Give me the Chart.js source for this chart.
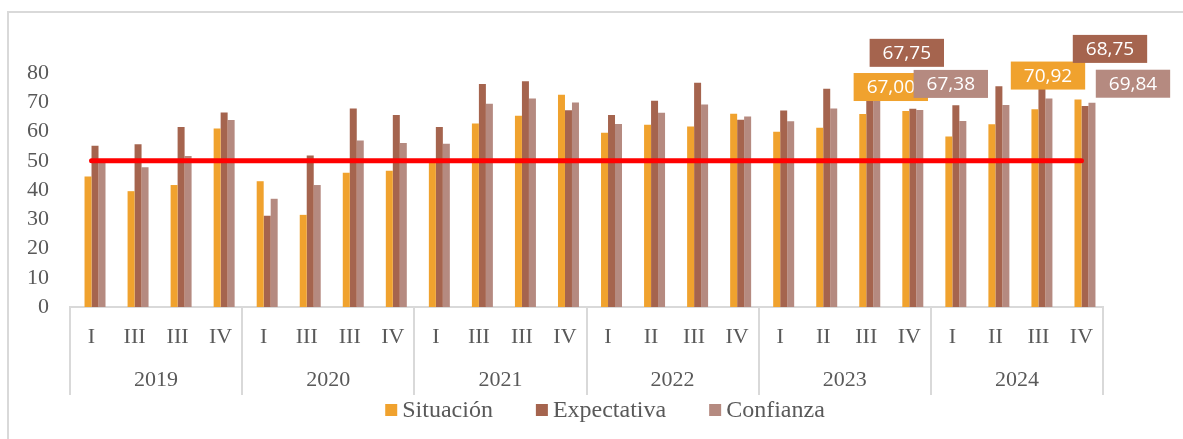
<!DOCTYPE html>
<html>
<head>
<meta charset="utf-8">
<script src="https://cdn.jsdelivr.net/npm/chart.js@4.4.1/dist/chart.umd.min.js"></script>
<style>
    body { margin: 0; background: #fff; }
    #wrap { width: 1183px; height: 439px; position: relative; }
</style>
</head>
<body>
<div id="wrap"><canvas id="chart"></canvas></div>
<script>
// quarter labels as printed in the original (2019-2021 repeat "III")
const quarters = ['I', 'III', 'III', 'IV', 'I', 'III', 'III', 'IV', 'I', 'III', 'III', 'IV',
                  'I', 'II', 'III', 'IV', 'I', 'II', 'III', 'IV', 'I', 'II', 'III', 'IV'];
const years = ['2019', '2020', '2021', '2022', '2023', '2024'];

const situacion = [44.6, 39.6, 41.7, 61.0, 43.0, 31.5, 45.9, 46.6, 49.2, 62.7, 65.4, 72.6,
                   59.6, 62.3, 61.7, 66.1, 59.9, 61.3, 66.0, 67.00, 58.3, 62.5, 67.6, 70.92];
const expectativa = [55.1, 55.6, 61.5, 66.5, 31.2, 51.8, 67.9, 65.6, 61.5, 76.2, 77.2, 67.3,
                     65.6, 70.5, 76.7, 64.0, 67.2, 74.6, 73.5, 67.75, 69.0, 75.5, 76.5, 68.75];
const confianza = [49.6, 47.8, 51.6, 63.9, 37.0, 41.7, 56.9, 56.1, 55.8, 69.5, 71.3, 69.9,
                   62.6, 66.4, 69.2, 65.1, 63.5, 67.9, 71.5, 67.38, 63.6, 69.1, 71.3, 69.84];
const umbral = [50, 50, 50, 50, 50, 50, 50, 50, 50, 50, 50, 50,
                50, 50, 50, 50, 50, 50, 50, 50, 50, 50, 50, 50];

const serif = '"Liberation Serif", "DejaVu Serif", serif';
const grey = '#595959';
const lineGrey = '#d9d9d9';

// hand placed label boxes, offset from the top of each bar: [dataset, index, dx, dy]
const labelOffsets = [
    [2, 19, -15, -24], [3, 19, -6, -56], [4, 19, 31, -26],
    [2, 23, -30, -24], [3, 23, 25, -57], [4, 23, 41, -19]
];

const framePlugin = {
    id: 'frame',
    beforeDraw(chart) {
        const ctx = chart.ctx;
        ctx.save();
        ctx.fillStyle = '#fff';
        ctx.fillRect(0, 0, chart.width, chart.height);
        ctx.strokeStyle = lineGrey;
        ctx.lineWidth = 2;
        ctx.beginPath();
        ctx.moveTo(8, chart.height);
        ctx.lineTo(8, 12);
        ctx.lineTo(chart.width, 12);
        ctx.stroke();
        ctx.restore();
    },
    afterDraw(chart) {
        const ctx = chart.ctx;
        const x = chart.scales.x;
        const area = chart.chartArea;
        const step = (area.right - area.left) / quarters.length;
        ctx.save();

        // year separators and year labels
        ctx.strokeStyle = lineGrey;
        ctx.lineWidth = 2;
        for (let i = 0; i <= quarters.length; i += 4) {
            const px = Math.round(area.left + i * step);
            ctx.beginPath();
            ctx.moveTo(px, area.bottom);
            ctx.lineTo(px, area.bottom + 88);
            ctx.stroke();
        }
        ctx.fillStyle = grey;
        ctx.font = '22px ' + serif;
        ctx.textAlign = 'center';
        ctx.textBaseline = 'middle';
        years.forEach((yr, i) => {
            const cx = (x.getPixelForValue(i * 4) + x.getPixelForValue(i * 4 + 3)) / 2;
            ctx.fillText(yr, cx, area.bottom + 73);
        });

        // legend for the three bar series
        const items = chart.data.datasets.filter(d => d.type !== 'line' && d.label);
        ctx.textAlign = 'left';
        ctx.font = '24px ' + serif;
        const widths = items.map(d => ctx.measureText(d.label).width);
        const total = widths.reduce((a, b) => a + b, 0) + items.length * 17 + (items.length - 1) * 43;
        let lx = 605 - total / 2;
        const ly = 410;
        items.forEach((d, i) => {
            ctx.fillStyle = d.backgroundColor;
            ctx.fillRect(lx, ly - 6, 12, 12);
            ctx.fillStyle = grey;
            ctx.fillText(d.label, lx + 17, ly + 1);
            lx += 17 + widths[i] + 43;
        });

        // value boxes
        ctx.textAlign = 'center';
        ctx.font = '19px "Open Sans", "Noto Sans", sans-serif';
        labelOffsets.forEach(([ds, idx, dx, dy]) => {
            const bar = chart.getDatasetMeta(ds).data[idx];
            const dataset = chart.data.datasets[ds];
            const txt = dataset.data[idx].toFixed(2).replace('.', ',');
            const w = ctx.measureText(txt).width + 26;
            const h = 28;
            const cx = bar.x + dx;
            const cy = bar.y + dy;
            ctx.fillStyle = dataset.backgroundColor;
            ctx.fillRect(cx - w / 2, cy - h / 2, w, h);
            ctx.fillStyle = '#fff';
            ctx.fillText(txt, cx, cy + 1);
        });
        ctx.restore();
    }
};

new Chart(document.getElementById('chart'), {
    type: 'bar',
    data: {
        labels: quarters,
        datasets: [
            { type: 'line', label: 'Umbral', data: umbral, borderColor: '#ff0000', borderWidth: 5,
              pointRadius: 0, borderCapStyle: 'round', order: 0 },
            // empty slot kept by the original cluster layout
            { label: '', data: [], backgroundColor: 'rgba(0,0,0,0)', order: 1 },
            { label: 'Situación', data: situacion, backgroundColor: '#f0a22e', order: 1 },
            { label: 'Expectativa', data: expectativa, backgroundColor: '#a5644e', order: 1 },
            { label: 'Confianza', data: confianza, backgroundColor: '#b58a80', order: 1 }
        ]
    },
    options: {
        responsive: true,
        maintainAspectRatio: false,
        animation: false,
        layout: { padding: { top: 73, right: 80, left: 0, bottom: 48 } },
        datasets: { bar: { categoryPercentage: 0.65, barPercentage: 1.0 } },
        scales: {
            x: {
                grid: { display: false, drawTicks: false },
                border: { display: true, color: lineGrey, width: 2 },
                ticks: { color: grey, font: { family: serif, size: 22 }, padding: 17,
                         autoSkip: false, maxRotation: 0 },
                afterFit: s => { s.height = 84; }
            },
            y: {
                min: 0, max: 80,
                grid: { display: false, drawTicks: false },
                border: { display: false },
                ticks: { stepSize: 10, autoSkip: false, color: grey,
                         font: { family: serif, size: 22 }, padding: 21 },
                afterFit: s => { s.width = 70; }
            }
        },
        plugins: {
            legend: { display: false },
            tooltip: { enabled: false }
        }
    },
    plugins: [framePlugin]
});
</script>
</body>
</html>
